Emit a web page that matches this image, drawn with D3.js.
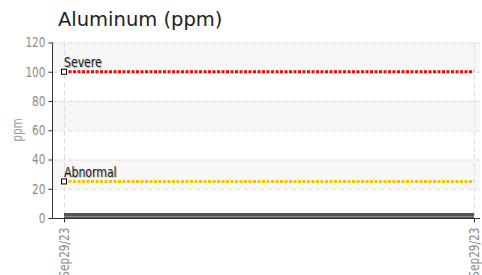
<!DOCTYPE html>
<html><head><meta charset="utf-8">
<script src="https://cdn.jsdelivr.net/npm/d3@7"></script>
<style>
body{margin:0;background:#fff;}
svg{display:block;}
</style></head>
<body>
<svg id="c" width="482" height="275"></svg>
<script>
const categories = ["Sep29/23", "Sep29/23 "];
const seriesValues = [0, 0];
const severeValues = [100, 100];
const abnormalValues = [25, 25];
const yTicks = [0, 20, 40, 60, 80, 100, 120];
const title = "Aluminum (ppm)";
const yLabel = "ppm";

(function(){
const svg = d3.select("#c");
const cf = "'DejaVu Sans',sans-serif";
const sx = 0.78;
const pL = 52, pR = 480, pT = 42.5, pB = 218;

const y = d3.scaleLinear().domain([0, 120]).range([pB, pT]);
const x = d3.scalePoint().domain(categories).range([64, 474]);

// bands
const bands = [[100,120],[60,80],[20,40]];
svg.selectAll("rect.band").data(bands).enter().append("rect")
  .attr("x", pL).attr("width", pR-pL)
  .attr("y", d => y(d[1])).attr("height", d => y(d[0]) - y(d[1]))
  .attr("fill", "#f7f7f7");

// horizontal grid
svg.selectAll("line.hg").data(yTicks.filter(d => d > 0)).enter().append("line")
  .attr("x1", pL).attr("x2", pR)
  .attr("y1", d => y(d)+0.5).attr("y2", d => y(d)+0.5)
  .attr("stroke", "#dcdcdc").attr("stroke-dasharray", "5,3");

// vertical grid
svg.selectAll("line.vg").data(categories).enter().append("line")
  .attr("x1", d => Math.round(x(d))+0.5).attr("x2", d => Math.round(x(d))+0.5)
  .attr("y1", pT).attr("y2", pB)
  .attr("stroke", "#dcdcdc").attr("stroke-dasharray", "5,3");

// data bar (zero series)
const x0 = x(categories[0]), x1 = x(categories[1]);
svg.append("rect").attr("x", x0).attr("width", x1 - x0)
  .attr("y", y(seriesValues[0]) - 5).attr("height", 5).attr("fill", "#555");
svg.append("line").attr("x1", x0).attr("x2", x1)
  .attr("y1", y(seriesValues[0]) - 1.5).attr("y2", y(seriesValues[0]) - 1.5)
  .attr("stroke", "#8a8a8a").attr("stroke-width", 1);

// y axis
const yAxis = d3.axisLeft(y).tickValues(yTicks).tickSize(4).tickPadding(3);
const ga = svg.append("g").attr("transform", `translate(${pL+0.5},0)`).call(yAxis);
ga.select(".domain").attr("stroke", "#333").attr("d", `M0,${pT}V${pB}`);
ga.selectAll(".tick line").attr("stroke", "#333");
ga.selectAll(".tick text").attr("fill", "#8c8c8c").style("font-family", cf).style("font-size", "13.5px")
  .attr("x", -7 / sx).attr("transform", `scale(${sx},1)`);

// x axis
const xAxis = d3.axisBottom(x).tickSize(4).tickPadding(3);
const gx = svg.append("g").attr("transform", `translate(0,${pB+0.5})`).call(xAxis);
gx.select(".domain").attr("stroke", "#333").attr("d", `M${pL},0H${pR}`);
gx.selectAll(".tick line").attr("stroke", "#333");
gx.selectAll(".tick text").attr("fill", "#8c8c8c").style("font-family", cf).style("font-size", "13.5px")
  .attr("transform", `rotate(-90) scale(${sx},1)`).attr("text-anchor", "end")
  .attr("x", -9 / sx).attr("y", 0).attr("dy", "0.35em")
  .text(d => d.trim());

// threshold lines
function thresh(vals, color, label) {
  const line = d3.line().x((d, i) => x(categories[i])).y(d => y(d));
  svg.append("path").datum(vals).attr("d", line).attr("fill", "none")
    .attr("stroke", color).attr("stroke-width", 3).attr("stroke-dasharray", "3,1.5");
  svg.append("rect").attr("x", x(categories[0]) - 2.5).attr("y", y(vals[0]) - 2.5)
    .attr("width", 5).attr("height", 5).attr("fill", "#fff").attr("stroke", "#000").attr("stroke-width", 1);
  const tx = x(categories[0]), ty = y(vals[0]) - 4.5;
  svg.append("text").attr("transform", `translate(${tx+1},${ty+1}) scale(${sx},1)`)
    .text(label).attr("fill", "#bbb").style("font-family", cf).style("font-size", "14px");
  svg.append("text").attr("transform", `translate(${tx},${ty}) scale(${sx},1)`)
    .text(label).attr("fill", "#1a1a1a").style("font-family", cf).style("font-size", "14px");
}
thresh(severeValues, "#ff0000", "Severe");
thresh(abnormalValues, "#f5c400", "Abnormal");

// title
svg.append("text").attr("x", 58).attr("y", 26).text(title)
  .attr("fill", "#222").style("font-family", "'DejaVu Sans',Verdana,sans-serif").style("font-size", "19.5px");

// y label
svg.append("text").attr("transform", `translate(22,130) rotate(-90) scale(${sx},1)`).attr("text-anchor", "middle")
  .text(yLabel).attr("fill", "#999").style("font-family", cf).style("font-size", "13.5px");
})();
</script>
</body></html>
